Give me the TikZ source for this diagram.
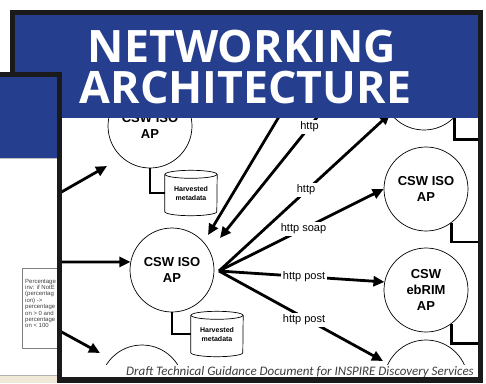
\documentclass[tikz,border=0pt]{standalone}
\usepackage{fontspec}
\setmainfont{Liberation Sans}
\newfontfamily\titlefont{Open Sans}
\newfontfamily\capfont{Carlito}
\usetikzlibrary{arrows.meta}
\definecolor{slideblue}{RGB}{37,63,142}
\definecolor{capgray}{RGB}{60,60,60}
\definecolor{beigebg}{RGB}{241,233,216}
\definecolor{frameblack}{RGB}{26,26,26}
\begin{document}
\begin{tikzpicture}[x=1pt,y=-1pt,
  ap/.style={circle, draw, line width=0.7pt, minimum size=84pt, inner sep=0pt, align=center,
             font=\fontsize{13}{16}\selectfont\bfseries},
  cylnode/.style={minimum width=52pt, minimum height=45pt, inner sep=0pt, align=center,
             font=\fontsize{7}{9}\selectfont\bfseries},
  cylline/.style={line width=0.7pt},
  link/.style={line width=2.8pt, -{Triangle[length=11pt,width=10pt]}},
  elbow/.style={line width=2.8pt},
  lbl/.style={fill=white, inner sep=1.5pt, font=\fontsize{11}{13}\selectfont},
]
\useasboundingbox (0,0) rectangle (486,383);
\fill[white] (0,0) rectangle (486,383);

% front slide frame
\fill[frameblack] (10,10) rectangle (483,383);
\fill[white] (15,15) rectangle (478,377);

\begin{scope}
\clip (15,15) rectangle (478,364);
% circles
\node[ap] (c1) at (150,126) {CSW ISO\\AP};
\node[ap] (c3) at (172,270) {CSW ISO\\AP};
\node[ap] (c5) at (142,387) {};
\node[ap] (c6) at (424,88) {};
\node[ap] (c7) at (426,189) {CSW ISO\\AP};
\node[ap] (c8) at (426,290) {CSW\\ebRIM\\AP};
\node[ap] (c9) at (426,382) {};
% cylinders
\node[cylnode] (h1) at (191,193) {Harvested\\metadata};
\draw[cylline] ([yshift=-4pt]h1.north west) -- ([yshift=4pt]h1.south west)
   arc[start angle=180,end angle=360,x radius=26pt,y radius=4pt] -- ([yshift=-4pt]h1.north east);
\draw[cylline] ([yshift=-4pt]h1.north) ellipse [x radius=26pt, y radius=4pt];
\node[cylnode] (h2) at (217,334) {Harvested\\metadata};
\draw[cylline] ([yshift=-4pt]h2.north west) -- ([yshift=4pt]h2.south west)
   arc[start angle=180,end angle=360,x radius=26pt,y radius=4pt] -- ([yshift=-4pt]h2.north east);
\draw[cylline] ([yshift=-4pt]h2.north) ellipse [x radius=26pt, y radius=4pt];
% elbow connectors
\coordinate (r6) at (482,139.5);
\coordinate (r7) at (482,242);
\coordinate (r8) at (482,343.3);
\draw[elbow] (c1.south) |- (h1.west);
\draw[elbow] (c3.south) |- (h2.west);
\draw[elbow] (c6.-44) |- (r6);
\draw[elbow] (c7.-53.5) |- (r7);
\draw[elbow] (c8.-53.5) |- (r8);
% arrows
\coordinate (a1s) at (58,194);
\coordinate (a1e) at (107,166);
\coordinate (a2s) at (58,262);
\coordinate (a3s) at (58,330);
\coordinate (a3e) at (100,353);
\coordinate (l1s) at (289,100);
\coordinate (l1e) at (208,235);
\coordinate (l2s) at (331,100);
\coordinate (l2e) at (220,238);
\coordinate (fan) at (219,271);
\coordinate (l6e) at (383,361);
\draw[link] (a1s) -- (a1e);
\draw[link] (a2s) -- (c3.169);
\draw[link] (a3s) -- (a3e);
\draw[link] (l1s) -- (l1e);
\draw[link] (l2s) -- (l2e);
\draw[link] (fan) -- (c6.217);
\draw[link] (fan) -- (c7.west);
\draw[link] (fan) -- (c8.169);
\draw[link] (fan) -- (l6e);
% labels
\node[lbl] (t2) at (309.5,127) {http};
\node[lbl] (t3) at (306,190) {http};
\node[lbl] (t4) at (303.5,229) {http soap};
\node[lbl] (t5) at (304,277) {http post};
\node[lbl] (t6) at (304,320) {http post};
\end{scope}

% caption
\node[anchor=base east, inner sep=0pt, text=capgray,
      font=\capfont\itshape\fontsize{13}{15}\selectfont] (cap) at (474,375)
      {Draft Technical Guidance Document for INSPIRE Discovery Services};

% header
\fill[slideblue] (15,15) rectangle (478,118);
\node[anchor=base, inner sep=0pt, text=white, font=\titlefont\bfseries\fontsize{44.7}{44.7}\selectfont]
   (title1) at (242,62) {NETWORKING};
\node[anchor=base, inner sep=0pt, text=white, font=\titlefont\bfseries\fontsize{44.7}{44.7}\selectfont]
   (title2) at (245.5,103) {ARCHITECTURE};

% back slide
\fill[white] (0,72) rectangle (62,375);
\fill[slideblue] (0,77) rectangle (57,158);
\draw[gray!50, line width=0.5pt] (0,158.3) -- (57,158.3);
\begin{scope}
\clip (0,0) rectangle (57,383);
\draw[gray, line width=0.5pt, fill=white] (22,268) rectangle (75,348);
\node[anchor=north west, align=left, inner sep=0pt, text=black!75,
      font=\fontsize{6}{6.4}\selectfont] (pct) at (25,278.7)
  {Percentage\\inv: if NotE\\(percentag\\ion) ->\\percentage\\on > 0 and\\percentage\\on < 100};
\end{scope}
\fill[frameblack] (0,72) rectangle (62,77);
\fill[frameblack] (57,72) rectangle (62,383);
\fill[beigebg] (0,375) rectangle (57,383);
\draw[gray!60, line width=0.5pt] (0,375) -- (57,375);
\end{tikzpicture}
\end{document}
